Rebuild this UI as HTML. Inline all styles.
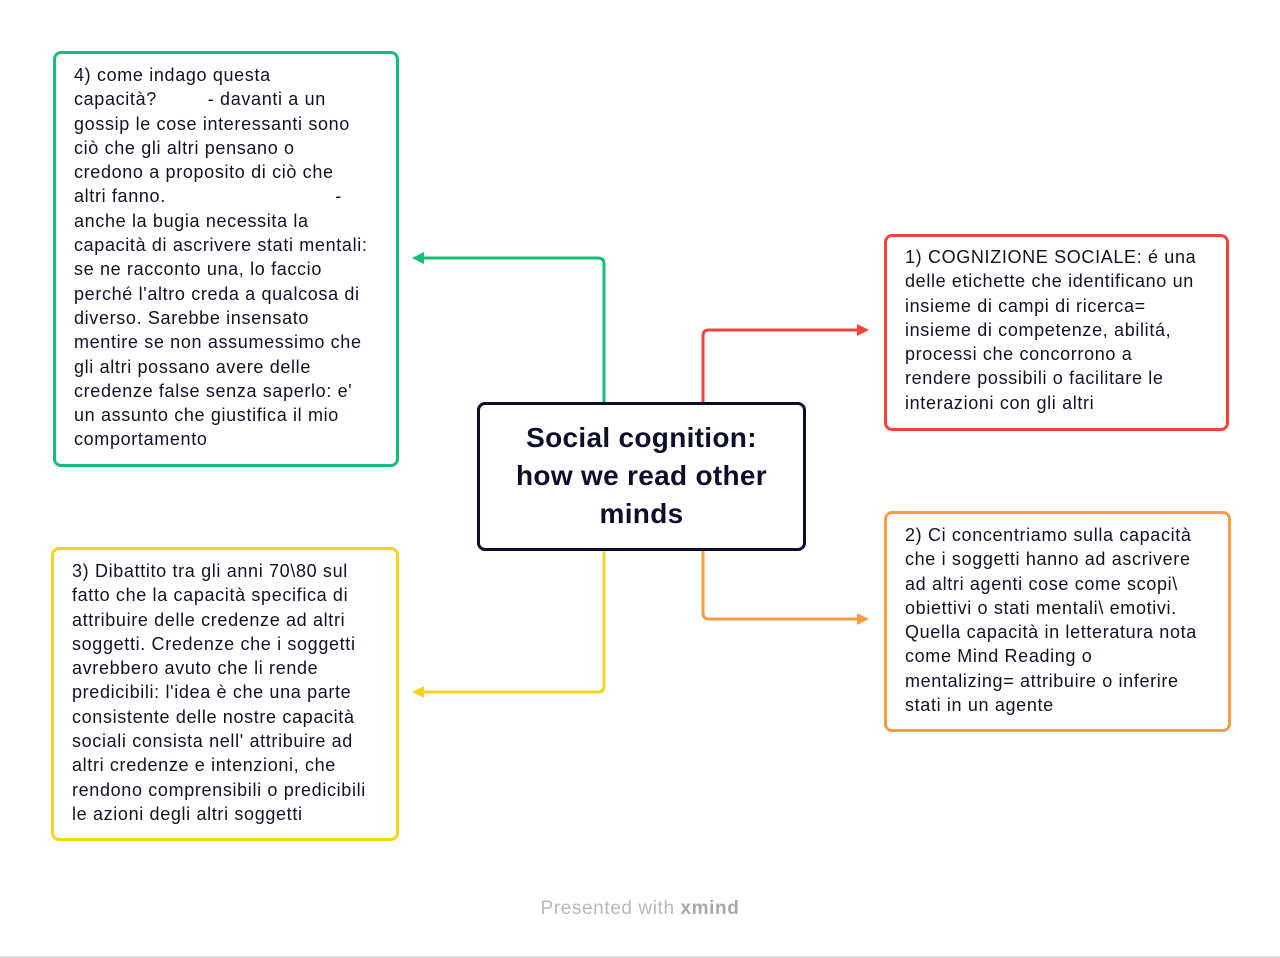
<!DOCTYPE html>
<html><head><meta charset="utf-8"><style>
body{margin:0;width:1280px;height:958px;background:#fff;position:relative;overflow:hidden;font-family:"Liberation Sans",sans-serif;color:#111128}
.b{position:absolute;box-sizing:border-box;border:3px solid;border-radius:8px;background:#fff}
.t{position:absolute;font-size:18px;letter-spacing:0.65px;line-height:24.3px;white-space:pre}
</style></head><body>
<svg width="1280" height="958" style="position:absolute;left:0;top:0" fill="none" stroke-width="3">
<path d="M604 402 V264 Q604 258 598 258 H420" stroke="#16bf78"/><polygon points="412,258 424,252 424,264" fill="#16bf78"/>
<path d="M703 402 V336 Q703 330 709 330 H860" stroke="#f0463a"/><polygon points="869,330 857,324 857,336" fill="#f0463a"/>
<path d="M703 550 V613 Q703 619 709 619 H860" stroke="#f79c42"/><polygon points="869,619 857,613 857,625" fill="#f79c42"/>
<path d="M604 550 V686 Q604 692 598 692 H420" stroke="#f5d21c"/><polygon points="412,692 424,686 424,698" fill="#f5d21c"/>
</svg>
<div class="b" style="left:53px;top:51px;width:346px;height:416px;border-color:#16bf78"></div>
<div class="t" style="left:74px;top:63px">4) come indago questa
capacità?         - davanti a un
gossip le cose interessanti sono
ciò che gli altri pensano o
credono a proposito di ciò che
altri fanno.                              -
anche la bugia necessita la
capacità di ascrivere stati mentali:
se ne racconto una, lo faccio
perché l'altro creda a qualcosa di
diverso. Sarebbe insensato
mentire se non assumessimo che
gli altri possano avere delle
credenze false senza saperlo: e'
un assunto che giustifica il mio
comportamento</div>
<div class="b" style="left:884px;top:234px;width:345px;height:197px;border-color:#f0463a"></div>
<div class="t" style="left:905px;top:245px">1) COGNIZIONE SOCIALE: é una
delle etichette che identificano un
insieme di campi di ricerca=
insieme di competenze, abilitá,
processi che concorrono a
rendere possibili o facilitare le
interazioni con gli altri</div>
<div class="b" style="left:884px;top:511px;width:347px;height:221px;border-color:#f79c42"></div>
<div class="t" style="left:905px;top:523px">2) Ci concentriamo sulla capacità
che i soggetti hanno ad ascrivere
ad altri agenti cose come scopi\
obiettivi o stati mentali\ emotivi.
Quella capacità in letteratura nota
come Mind Reading o
mentalizing= attribuire o inferire
stati in un agente</div>
<div class="b" style="left:51px;top:547px;width:348px;height:294px;border-color:#f5d21c"></div>
<div class="t" style="left:72px;top:559px">3) Dibattito tra gli anni 70\80 sul
fatto che la capacità specifica di
attribuire delle credenze ad altri
soggetti. Credenze che i soggetti
avrebbero avuto che li rende
predicibili: l'idea è che una parte
consistente delle nostre capacità
sociali consista nell' attribuire ad
altri credenze e intenzioni, che
rendono comprensibili o predicibili
le azioni degli altri soggetti</div>
<div class="b" style="left:477px;top:402px;width:329px;height:149px;border-color:#0e0e2c;border-width:3px"></div>
<div style="position:absolute;left:477px;top:419px;width:329px;text-align:center;font-size:28px;line-height:38px;font-weight:bold;letter-spacing:0.3px;color:#0e0e2c">Social cognition:<br>how we read other<br>minds</div>
<div style="position:absolute;left:0;width:1280px;top:898px;text-align:center;font-size:19px;letter-spacing:0.6px;color:#b8b8b8">Presented with <b style="color:#a8a8a8">xmind</b></div>
<div style="position:absolute;left:0;top:956px;width:1280px;height:2px;background:#ddd"></div>
</body></html>
